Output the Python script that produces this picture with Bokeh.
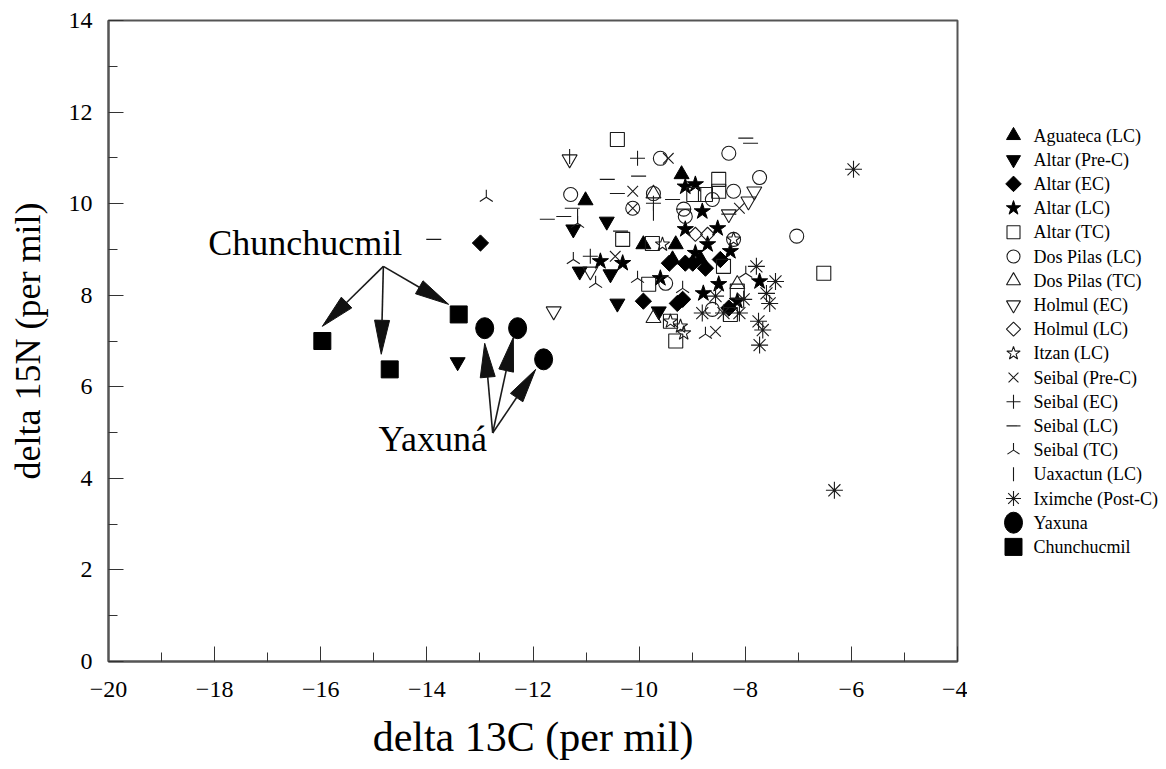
import numpy as np
from bokeh.plotting import figure
from bokeh.models import Range1d, FixedTicker
from bokeh.layouts import row
from bokeh.core.properties import value
from bokeh.embed import file_html
from bokeh.resources import INLINE

FONT = "Liberation Serif"

# ---------------- data (delta13C, delta15N) ----------------
aguateca_lc_x = [-11.01, -9.92, -9.31, -9.20, -9.37, -8.84]
aguateca_lc_y = [10.07, 9.11, 9.11, 10.64, 8.78, 8.78]

altar_prec_x = [-11.24, -10.61, -11.12, -10.54, -10.41, -9.63, -13.42]
altar_prec_y = [9.44, 9.61, 8.52, 8.46, 7.82, 7.65, 6.54]

altar_ec_x = [-12.99, -9.92, -9.28, -9.13, -8.99, -8.75, -8.31, -9.18, -9.43, -8.47]
altar_ec_y = [9.14, 7.87, 7.82, 8.70, 8.70, 8.59, 7.72, 7.91, 8.70, 8.78]

altar_lc_x = [-9.13, -10.73, -10.31, -9.60, -8.94, -8.81, -9.13, -8.52, -8.71, -8.28,
              -8.94, -8.50, -8.79, -7.73, -8.15]
altar_lc_y = [10.37, 8.74, 8.70, 8.37, 10.42, 9.83, 9.44, 9.46, 9.11, 8.96,
              8.92, 8.24, 8.04, 8.30, 7.87]

altar_tc_x = [-10.41, -10.31, -9.75, -9.82, -9.41, -9.31, -8.50, -8.50, -8.97, -8.75,
              -8.41, -8.28, -8.15, -6.52]
altar_tc_y = [11.40, 9.22, 9.13, 8.24, 7.43, 7.00, 10.53, 10.27, 10.20, 10.20,
              8.63, 7.58, 8.09, 8.48]

dospilas_lc_x = [-11.29, -9.73, -10.12, -9.16, -9.60, -9.50, -8.31, -7.73, -7.03, -8.62,
                 -8.22, -9.13, -8.22, -8.62]
dospilas_lc_y = [10.20, 10.22, 9.90, 9.88, 10.99, 8.26, 11.10, 10.57, 9.29, 10.09,
                 10.27, 9.72, 9.22, 7.69]

dospilas_tc_x = [-9.73, -9.73, -8.15]
dospilas_tc_y = [10.22, 7.50, 8.24]

holmul_ec_x = [-11.31, -10.92, -11.61, -7.83, -7.94, -8.31]
holmul_ec_y = [10.97, 8.52, 7.65, 10.27, 10.05, 9.77]

holmul_lc_x = [-8.94, -8.71]
holmul_lc_y = [9.33, 9.33]

itzan_lc_x = [-9.56, -9.41, -9.22, -9.16, -8.22]
itzan_lc_y = [9.11, 7.43, 7.32, 7.17, 9.22]

seibal_prec_x = [-9.45, -10.12, -10.12, -10.45, -8.11, -8.56]
seibal_prec_y = [10.99, 10.27, 9.90, 8.85, 9.90, 7.21]

seibal_ec_x = [-10.03, -9.73, -10.92]
seibal_ec_y = [10.99, 10.01, 8.85]

seibal_lc_x = [-10.60, -10.01, -10.41, -9.37, -11.26, -11.73, -11.42, -10.35, -7.99, -7.90,
               -13.87, -8.31, -9.16]
seibal_lc_y = [10.53, 10.60, 10.22, 10.09, 9.90, 9.66, 9.72, 9.40, 11.43, 11.32,
               9.22, 9.77, 9.88]

seibal_tc_x = [-12.88, -11.16, -11.24, -10.82, -10.03, -9.18, -8.75, -7.99]
seibal_tc_y = [10.14, 9.57, 8.78, 8.26, 8.37, 8.15, 7.15, 8.48]

uaxactun_lc_x = [-11.31, -11.16, -9.73]
uaxactun_lc_y = [11.03, 9.72, 9.79]

iximche_x = [-5.96, -6.32, -7.79, -7.43, -7.60, -7.54, -8.03, -8.11, -8.41, -8.81,
             -7.75, -7.67, -7.73, -8.56]
iximche_y = [10.75, 3.74, 8.63, 8.30, 8.04, 7.82, 7.91, 7.61, 7.61, 7.61,
             7.43, 7.24, 6.91, 7.98]

yaxuna_x = [-12.91, -12.29, -11.80]
yaxuna_y = [7.28, 7.28, 6.60]

chunchucmil_x = [-15.97, -14.70, -13.40]
chunchucmil_y = [7.00, 6.38, 7.58]

# annotation arrows: origin -> tips
chun_label = "Chunchucmil"
chun_label_pos = (-18.12, 9.13)
chun_origin = (-14.82, 8.63)
chun_tips_x = [-15.97, -14.86, -13.59]
chun_tips_y = [7.32, 6.71, 7.80]

yax_label = "Yaxuná"
yax_label_pos = (-14.91, 4.85)
yax_origin = (-12.76, 4.99)
yax_tips_x = [-12.91, -12.37, -11.95]
yax_tips_y = [6.95, 7.08, 6.38]

x_ticks = [-20, -18, -16, -14, -12, -10, -8, -6, -4]
x_tick_labels = ["\u221220", "\u221218", "\u221216", "\u221214", "\u221212",
                 "\u221210", "\u22128", "\u22126", "\u22124"]
y_ticks = [0, 2, 4, 6, 8, 10, 12, 14]

Q = np.pi / 4
# series: label, marker, xs, ys, filled, size(plot), size(legend), angle
series = [
    ("Aguateca (LC)", "triangle", aguateca_lc_x, aguateca_lc_y, True, 15, 14, 0),
    ("Altar (Pre-C)", "inverted_triangle", altar_prec_x, altar_prec_y, True, 15, 14, 0),
    ("Altar (EC)", "square", altar_ec_x, altar_ec_y, True, 11.5, 11, Q),
    ("Altar (LC)", "star", altar_lc_x, altar_lc_y, True, 17, 15, 0),
    ("Altar (TC)", "square", altar_tc_x, altar_tc_y, False, 14, 13, 0),
    ("Dos Pilas (LC)", "circle", dospilas_lc_x, dospilas_lc_y, False, 14, 13, 0),
    ("Dos Pilas (TC)", "triangle", dospilas_tc_x, dospilas_tc_y, False, 15, 14, 0),
    ("Holmul (EC)", "inverted_triangle", holmul_ec_x, holmul_ec_y, False, 15, 14, 0),
    ("Holmul (LC)", "square", holmul_lc_x, holmul_lc_y, False, 10, 10, Q),
    ("Itzan (LC)", "star", itzan_lc_x, itzan_lc_y, False, 15, 14, 0),
    ("Seibal (Pre-C)", "x", seibal_prec_x, seibal_prec_y, False, 15, 14, 0),
    ("Seibal (EC)", "cross", seibal_ec_x, seibal_ec_y, False, 15, 14, 0),
    ("Seibal (LC)", "dash", seibal_lc_x, seibal_lc_y, False, 15, 14, 0),
    ("Seibal (TC)", "y", seibal_tc_x, seibal_tc_y, False, 15, 14, np.pi),
    ("Uaxactun (LC)", "dash", uaxactun_lc_x, uaxactun_lc_y, False, 15, 14, np.pi / 2),
    ("Iximche (Post-C)", "asterisk", iximche_x, iximche_y, False, 17, 15, 0),
    ("Yaxuna", "circle", yaxuna_x, yaxuna_y, True, 19, 19, 0),
    ("Chunchucmil", "square", chunchucmil_x, chunchucmil_y, True, 17, 17, 0),
]

# ---------------- main figure ----------------
BL, BR, BT = 108, 10, 20
FW, FH = 849, 641
H = 768
W = BL + FW + BR
BB = H - BT - FH

p = figure(width=W, height=H, x_range=Range1d(-20, -4), y_range=Range1d(0, 14),
           min_border_left=BL, min_border_right=BR, min_border_top=BT, min_border_bottom=BB,
           toolbar_location=None, output_backend="svg")
p.grid.visible = False
p.outline_line_color = "#555555"
p.outline_line_width = 2
p.background_fill_color = "white"
p.border_fill_color = "white"

p.xaxis.ticker = FixedTicker(ticks=x_ticks, minor_ticks=[t + 1 for t in x_ticks[:-1]])
p.yaxis.ticker = FixedTicker(ticks=y_ticks, minor_ticks=[t + 1 for t in y_ticks[:-1]])
p.xaxis.major_label_overrides = dict(zip(x_ticks, x_tick_labels))

for ax in (p.xaxis, p.yaxis):
    ax.axis_line_color = "#555555"
    ax.axis_line_width = 2
    ax.major_tick_line_color = "#333333"
    ax.minor_tick_line_color = "#333333"
    ax.major_tick_in = 15
    ax.major_tick_out = 0
    ax.minor_tick_in = 9
    ax.minor_tick_out = 0
    ax.major_label_text_font = FONT
    ax.major_label_text_font_size = "24px"
    ax.major_label_text_color = "black"
    ax.axis_label_text_font = FONT
    ax.axis_label_text_font_style = "normal"
    ax.axis_label_text_color = "black"

p.xaxis.axis_label = "delta 13C (per mil)"
p.yaxis.axis_label = "delta 15N (per mil)"
p.xaxis.axis_label_text_font_size = "42px"
p.yaxis.axis_label_text_font_size = "36px"
p.xaxis.major_label_standoff = 20
p.xaxis.axis_label_standoff = 14
p.yaxis.major_label_standoff = 16
p.yaxis.axis_label_standoff = 18


def draw(fig, marker, xs, ys, filled, size, angle):
    if marker == "circle" and filled:
        fig.ellipse(x=xs, y=ys, width=18, height=21, width_units="screen",
                    height_units="screen", fill_color="black", line_color="black")
        return
    if filled:
        fig.scatter(x=xs, y=ys, marker=marker, size=size, angle=angle,
                    fill_color="black", line_color="black", line_width=1)
    else:
        fig.scatter(x=xs, y=ys, marker=marker, size=size, angle=angle,
                    fill_color=None, line_color="#1a1a1a", line_width=1.1)


for label, marker, xs, ys, filled, size, lsize, angle in series:
    draw(p, marker, xs, ys, filled, size, angle)

# arrows (drawn from the annotation arrays)
sx = FW / 16.0
sy = FH / 14.0
HEAD_L, HEAD_W = 34.0, 15.0


def arrows(origin, tips_x, tips_y):
    ox, oy = origin
    seg_x0, seg_y0, seg_x1, seg_y1, hx, hy = [], [], [], [], [], []
    for tx, ty in zip(tips_x, tips_y):
        dx = (tx - ox) * sx
        dy = (ty - oy) * sy
        ln = np.hypot(dx, dy)
        ux, uy = dx / ln, dy / ln
        bx = tx - HEAD_L * ux / sx
        by = ty - HEAD_L * uy / sy
        px_, py_ = -uy, ux
        c1 = (bx + HEAD_W / 2 * px_ / sx, by + HEAD_W / 2 * py_ / sy)
        c2 = (bx - HEAD_W / 2 * px_ / sx, by - HEAD_W / 2 * py_ / sy)
        seg_x0.append(ox); seg_y0.append(oy); seg_x1.append(bx); seg_y1.append(by)
        hx.append([tx, c1[0], c2[0]]); hy.append([ty, c1[1], c2[1]])
    p.segment(x0=seg_x0, y0=seg_y0, x1=seg_x1, y1=seg_y1, line_color="#1a1a1a", line_width=1.6)
    p.patches(xs=hx, ys=hy, fill_color="#111111", line_color="#111111", line_width=1)


arrows(chun_origin, chun_tips_x, chun_tips_y)
arrows(yax_origin, yax_tips_x, yax_tips_y)

p.text(x=[chun_label_pos[0], yax_label_pos[0]], y=[chun_label_pos[1], yax_label_pos[1]],
       text=[chun_label, yax_label], text_font=value(FONT), text_font_size="36px",
       text_align="left", text_baseline="alphabetic", text_color="black")

# ---------------- legend panel ----------------
# its frame is aligned with the main frame, so the y range is given in page pixels
LW = 195
lg = figure(width=LW, height=H, x_range=Range1d(0, LW), y_range=Range1d(BT + FH, BT),
            min_border=0, x_axis_location=None, y_axis_location=None,
            toolbar_location=None, output_backend="svg")
lg.grid.visible = False
lg.outline_line_color = None
lg.background_fill_color = "white"
lg.border_fill_color = "white"

row_y0, row_dy = 135.0, 24.2
mk_x, tx_x = 46.0, 66.0
labels = []
ys_lab = []
for i, (label, marker, xs, ys, filled, size, lsize, angle) in enumerate(series):
    yy = row_y0 + i * row_dy
    draw(lg, marker, [mk_x], [yy], filled, lsize, angle)
    labels.append(label)
    ys_lab.append(yy)

lg.text(x=[tx_x] * len(labels), y=ys_lab, text=labels, text_font=value(FONT),
        text_font_size="18px", text_align="left", text_baseline="middle", text_color="black")

layout = row(p, lg)
open("out.html", "w").write(file_html(layout, INLINE))
